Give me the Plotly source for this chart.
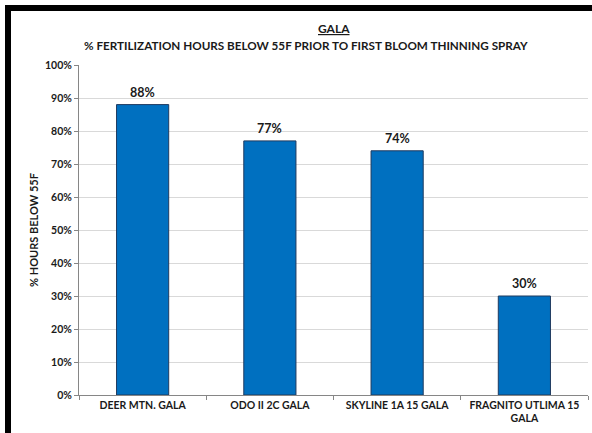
import plotly.graph_objects as go

categories = ["DEER MTN. GALA", "ODO II 2C GALA", "SKYLINE 1A 15 GALA", "FRAGNITO UTLIMA 15<br>GALA"]
values = [0.88, 0.77, 0.74, 0.30]
title_main = "GALA"
title_sub = "% FERTILIZATION HOURS BELOW 55F PRIOR TO FIRST BLOOM THINNING SPRAY"
y_title = "% HOURS BELOW 55F"

FONT = "Lato"
W, H = 592, 433
L, R, T, B = 79, 4, 65, 38
pw, ph = W - L - R, H - T - B

def px(x):
    return (x - L) / pw

def py(y):
    return (H - B - y) / ph

fig = go.Figure(go.Bar(
    x=categories, y=values,
    marker=dict(color="#0070C0", line=dict(color="#1F3A5F", width=1)),
    width=0.41,
))

label_annots = [
    dict(x=c, y=v, xref="x", yref="y", text=f"{round(v * 100)}%", showarrow=False,
         xanchor="center", yanchor="bottom", yshift=3,
         font=dict(family=FONT, size=12.5, color="#1a1a1a", weight="bold"))
    for c, v in zip(categories, values)
]

fig.update_layout(
    width=W, height=H,
    margin=dict(l=L, r=R, t=T, b=B),
    paper_bgcolor="white", plot_bgcolor="white",
    showlegend=False,
    font=dict(family=FONT),
    annotations=[
        dict(text="<u>" + title_main + "</u>", x=0.5, xref="paper",
             y=py(29), yref="paper", showarrow=False, xanchor="center", yanchor="middle",
             font=dict(family=FONT, size=12, color="#1a1a1a", weight="bold")),
        dict(text=title_sub, x=px(306), xref="paper", y=py(45), yref="paper",
             showarrow=False, xanchor="center", yanchor="middle",
             font=dict(family=FONT, size=11.7, color="#1a1a1a", weight="bold")),
        dict(text=y_title, x=px(33), xref="paper", y=py(230), yref="paper",
             showarrow=False, textangle=-90, xanchor="center", yanchor="middle",
             font=dict(family=FONT, size=11, color="#1a1a1a", weight="bold")),
    ] + label_annots,
    shapes=[
        dict(type="rect", xref="paper", yref="paper", x0=px(5), x1=px(11), y0=py(433), y1=py(5),
             fillcolor="black", line=dict(width=0), layer="above"),
        dict(type="rect", xref="paper", yref="paper", x0=px(5), x1=px(592), y0=py(11), y1=py(5),
             fillcolor="black", line=dict(width=0), layer="above"),
    ],
)
fig.update_xaxes(
    type="category", tickson="boundaries", ticks="outside", ticklen=4,
    tickcolor="#868686", showline=True, linecolor="#868686", linewidth=1,
    tickfont=dict(family=FONT, size=10.5, color="#1a1a1a", weight="bold"),
    showgrid=False,
)
fig.update_yaxes(
    range=[0, 1], dtick=0.1, tickformat=".0%", ticks="outside", ticklen=4,
    tickcolor="#868686", showline=True, linecolor="#868686", linewidth=1,
    gridcolor="#D9D9D9", gridwidth=1, zeroline=False,
    tickfont=dict(family=FONT, size=10.5, color="#1a1a1a", weight="bold"),
)

fig.write_html("out.html")
